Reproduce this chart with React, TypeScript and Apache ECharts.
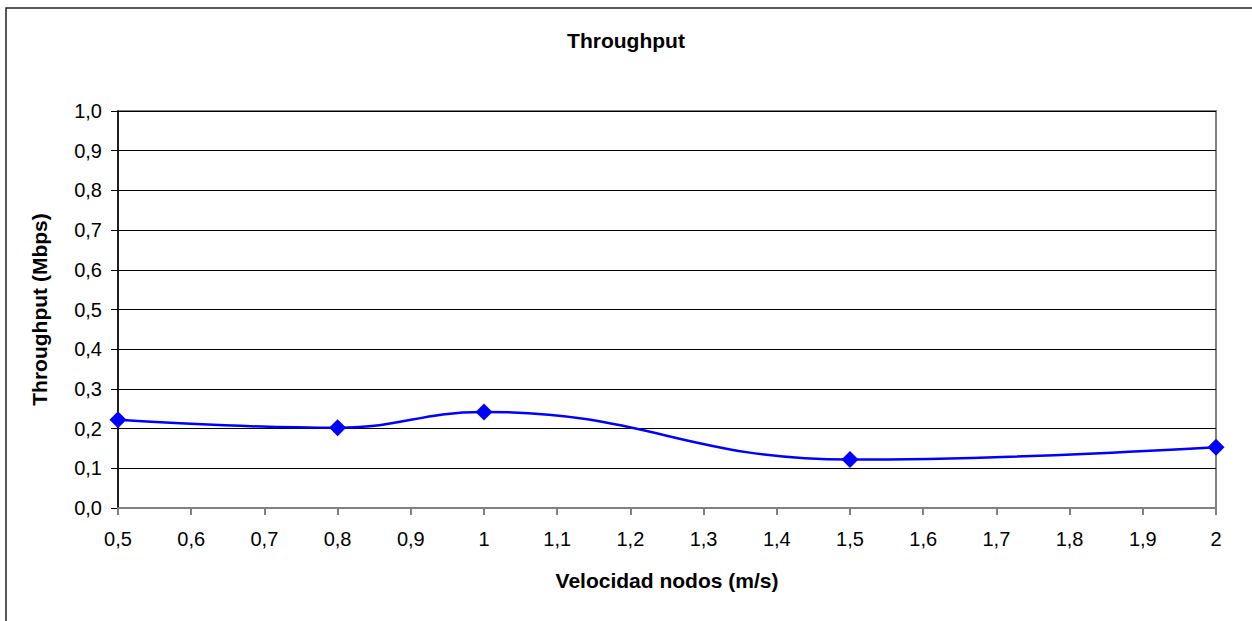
import React, { useEffect, useRef } from "react";
import * as echarts from "echarts";

const titleText = "Throughput";
const xName = "Velocidad nodos (m/s)";
const yName = "Throughput (Mbps)";
const speeds = [0.5, 0.8, 1.0, 1.5, 2.0];
const throughput = [0.222, 0.202, 0.242, 0.122, 0.153];

const fmt = (v: number) => {
  const r = Math.round(v * 10) / 10;
  return String(r).replace(".", ",");
};

export default function App() {
  const ref = useRef<HTMLDivElement>(null);
  useEffect(() => {
    if (!ref.current) return;
    const chart = echarts.init(ref.current, undefined, { renderer: "svg" });
    const font = "'Liberation Sans', Arial, sans-serif";
    chart.setOption({
      animation: false,
      backgroundColor: "#ffffff",
      textStyle: { fontFamily: font },
      title: {
        text: titleText,
        left: "center",
        top: 25,
        textStyle: { fontFamily: font, fontSize: 21, fontWeight: "bold", color: "#000" },
      },
      graphic: [
        {
          type: "rect",
          shape: { x: 6, y: 8, width: 1300, height: 700 },
          style: { fill: "none", stroke: "#222", lineWidth: 1.5 },
          silent: true,
          z: -1,
        },
      ],
      grid: {
        left: 118,
        top: 111,
        right: 36,
        bottom: 113,
        show: true,
        borderColor: "#808080",
        borderWidth: 2,
        backgroundColor: "#ffffff",
      },
      xAxis: {
        type: "value",
        min: 0.5,
        max: 2,
        interval: 0.1,
        name: xName,
        nameLocation: "middle",
        nameGap: 62,
        nameTextStyle: { fontFamily: font, fontSize: 21, fontWeight: "bold", color: "#000" },
        axisLine: { show: true, lineStyle: { color: "#808080", width: 2 } },
        axisTick: { show: true, inside: false, length: 7, lineStyle: { color: "#808080", width: 2 } },
        axisLabel: {
          formatter: (v: number) => fmt(v),
          fontFamily: font,
          fontSize: 20,
          color: "#000",
          margin: 21,
        },
        splitLine: { show: false },
      },
      yAxis: {
        type: "value",
        min: 0,
        max: 1,
        interval: 0.1,
        name: yName,
        nameLocation: "middle",
        nameGap: 68,
        nameTextStyle: { fontFamily: font, fontSize: 21, fontWeight: "bold", color: "#000" },
        axisLine: { show: true, lineStyle: { color: "#000", width: 1.5 } },
        axisTick: { show: true, inside: false, length: 7, lineStyle: { color: "#000", width: 1 } },
        axisLabel: {
          formatter: (v: number) => (Math.round(v * 10) / 10).toFixed(1).replace(".", ","),
          fontFamily: font,
          fontSize: 20,
          color: "#000",
          margin: 16,
        },
        splitLine: { show: true, lineStyle: { color: "#000", width: 1 } },
      },
      series: [
        {
          type: "line",
          data: speeds.map((s, i) => [s, throughput[i]]),
          smooth: 0.45,
          symbol: "diamond",
          symbolSize: 17,
          itemStyle: { color: "#0000ff" },
          lineStyle: { color: "#0000ff", width: 2.5 },
        },
      ],
    });
    return () => chart.dispose();
  }, []);
  return (
    <div
      ref={ref}
      style={{ position: "absolute", left: 0, top: 0, width: 1252, height: 621 }}
    />
  );
}
